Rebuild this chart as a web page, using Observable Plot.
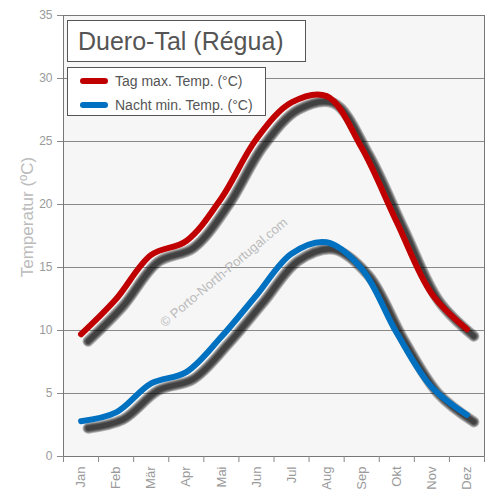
<!DOCTYPE html>
<html>
<head>
<meta charset="utf-8">
<script src="https://cdn.jsdelivr.net/npm/d3@7"></script>
<script src="https://cdn.jsdelivr.net/npm/@observablehq/plot@0.6"></script>
<style>
  body { margin: 0; background: #fff; font-family: "Liberation Sans", Arial, sans-serif; }
  #wrap { position: relative; width: 500px; height: 500px; }
  .box { position: absolute; background: #fff; border: 1px solid #555; box-sizing: border-box; }
  #title { left: 67px; top: 20px; width: 239px; height: 42px; font-size: 25px; color: #555; padding-left: 10px; line-height: 40px; }
  #legend { left: 67px; top: 67px; width: 199px; height: 49px; }
  .entry { position: absolute; left: 12px; font-size: 14px; color: #555; display: flex; align-items: center; height: 20px; }
  .swatch { width: 28px; height: 6px; border-radius: 3px; margin-right: 7px; }
</style>
</head>
<body>
<div id="wrap"></div>
<script>
const months = ["Jan","Feb","Mär","Apr","Mai","Jun","Jul","Aug","Sep","Okt","Nov","Dez"];
const tagMax = [9.7, 12.5, 16.0, 17.1, 20.5, 25.2, 28.1, 28.6, 24.5, 18.6, 12.9, 10.1];
const nachtMin = [2.8, 3.5, 5.8, 6.7, 9.5, 12.8, 16.1, 17.0, 14.9, 9.8, 5.5, 3.3];
const yTicks = [0, 5, 10, 15, 20, 25, 30, 35];
const seriesNames = ["Tag max. Temp. (°C)", "Nacht min. Temp. (°C)"];
const seriesColors = ["#c00000", "#0070c0"];

const rows = [];
months.forEach((m, i) => {
  rows.push({i: i + 1, v: tagMax[i], s: seriesNames[0]});
  rows.push({i: i + 1, v: nachtMin[i], s: seriesNames[1]});
});

const font = '"Liberation Sans", Arial, sans-serif';

// soft drop shadow built from stacked translucent strokes
const shadowLayers = [11, 9, 7, 5].map(w =>
  Plot.line(rows, {x: "i", y: "v", z: "s", curve: "catmull-rom", stroke: "#000", strokeOpacity: 0.28,
    strokeWidth: w, strokeLinecap: "round", strokeLinejoin: "round", dx: 7, dy: 7})
);

const chart = Plot.plot({
  width: 500, height: 500,
  marginLeft: 63, marginRight: 16, marginTop: 15, marginBottom: 44,
  style: {fontFamily: font, background: "transparent"},
  x: {domain: [0.5, 12.5]},
  y: {domain: [0, 35]},
  color: {domain: seriesNames, range: seriesColors},
  marks: [
    Plot.frame({fill: "#f6f6f6", stroke: null}),
    Plot.gridY(yTicks, {stroke: "#888", strokeOpacity: 1}),
    Plot.frame({stroke: "#777"}),
    Plot.axisY(yTicks, {tickSize: 6, tickPadding: 5, fontSize: 12, color: "#9a9a9a", stroke: "#888", label: null}),
    Plot.axisX(d3.range(1, 13), {tickSize: 0, tickPadding: 10, tickRotate: -90, tickFormat: i => months[i - 1], fontSize: 13, color: "#9a9a9a", label: null}),
    Plot.axisX(d3.range(0.5, 13, 1), {tickSize: 6, tickFormat: () => "", stroke: "#888", label: null}),
    Plot.text(["Temperatur (ºC)"], {frameAnchor: "left", textAnchor: "middle", dx: -36, dy: -19, rotate: -90, fontSize: 17, fill: "#bbb"}),
    Plot.text(["© Porto-North-Portugal.com"], {frameAnchor: "top-left", textAnchor: "middle", dx: 157, dy: 253, rotate: -40, fontSize: 13, fill: "#bbb"}),
    ...shadowLayers,
    Plot.line(rows, {x: "i", y: "v", z: "s", stroke: "s", curve: "catmull-rom", strokeWidth: 6, strokeLinecap: "round"})
  ]
});

const wrap = document.getElementById("wrap");
wrap.appendChild(chart);

const title = document.createElement("div");
title.id = "title"; title.className = "box";
title.textContent = "Duero-Tal (Régua)";
wrap.appendChild(title);

const legend = document.createElement("div");
legend.id = "legend"; legend.className = "box";
seriesNames.forEach((n, k) => {
  const e = document.createElement("div");
  e.className = "entry";
  e.style.top = (3 + k * 24) + "px";
  const sw = document.createElement("span");
  sw.className = "swatch"; sw.style.background = seriesColors[k];
  const t = document.createElement("span");
  t.textContent = n;
  e.appendChild(sw); e.appendChild(t);
  legend.appendChild(e);
});
wrap.appendChild(legend);
</script>
</body>
</html>
